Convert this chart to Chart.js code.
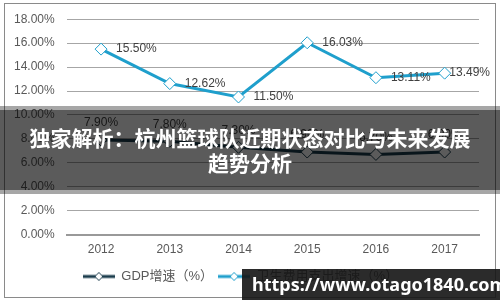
<!DOCTYPE html>
<html>
<head>
<meta charset="utf-8">
<script src="https://cdn.jsdelivr.net/npm/chart.js@4/dist/chart.umd.min.js"></script>
<style>
  html, body { margin: 0; padding: 0; background: #fff; }
  #wrap { position: relative; width: 500px; height: 300px; overflow: hidden; }
  #frame { position: absolute; left: 4px; top: 3px; width: 490px; height: 293px; border: 1px solid #8a8a8a; }
  canvas { position: absolute; left: 0; top: 0; }
  #band { position: absolute; left: 0; top: 106px; width: 500px; height: 88px; background: rgba(0,0,0,0.35); }
  #band .core { position: absolute; left: 0; top: 4px; width: 500px; height: 80px; background: rgba(0,0,0,0.45); }
  #title { position: absolute; left: 0; top: 106px; width: 500px; height: 88px;
           display: flex; align-items: center; justify-content: center; text-align: center;
           color: #fff; font: bold 21px "Noto Sans CJK SC", sans-serif; line-height: 25px; }
  #mark { position: absolute; left: 242px; top: 269px; width: 258px; height: 31px;
          background: rgba(20,20,20,0.9); color: #fff; font: bold 18px "Noto Sans", sans-serif;
          line-height: 31px; padding-left: 10px; box-sizing: border-box; }
</style>
</head>
<body>
<div id="wrap">
  <div id="frame"></div>
  <canvas id="grafico" width="500" height="300"></canvas>
  <div id="band"><div class="core"></div></div>
  <div id="title">独家解析：杭州篮球队近期状态对比与未来发展<br>趋势分析</div>
  <div id="mark">https://www.otago1840.com</div>
</div>
<script>
// dados
const anos = ['2012', '2013', '2014', '2015', '2016', '2017'];
const gdpGrowth = [7.90, 7.80, 7.30, 6.90, 6.70, 6.90];
const healthGrowth = [15.50, 12.62, 11.50, 16.03, 13.11, 13.49];
const seriesNames = ['GDP增速（%）', '卫生费用支出增速（%）'];
const seriesColors = ['#1b3d4d', '#1f9fcc'];

// icone da legenda: linha com losango
function legendIcon(color) {
    const c = document.createElement('canvas');
    c.width = 32; c.height = 12;
    const g = c.getContext('2d');
    g.strokeStyle = color; g.lineWidth = 3;
    g.beginPath(); g.moveTo(0, 6); g.lineTo(32, 6); g.stroke();
    g.fillStyle = '#fff'; g.lineWidth = 1;
    g.beginPath(); g.moveTo(16, 2); g.lineTo(20, 6); g.lineTo(16, 10); g.lineTo(12, 6); g.closePath();
    g.fill(); g.stroke();
    return c;
}

// rotulos de valor
const valueLabels = {
    id: 'valueLabels',
    afterDatasetsDraw(chart) {
        const ctx = chart.ctx;
        ctx.save();
        ctx.font = '12px "Liberation Sans", sans-serif';
        ctx.fillStyle = '#404040';
        ctx.textBaseline = 'middle';
        chart.data.datasets.forEach((ds, i) => {
            chart.getDatasetMeta(i).data.forEach((pt, j) => {
                const txt = ds.data[j].toFixed(2) + '%';
                if (ds.labelPos === 'top') {
                    ctx.textAlign = 'center';
                    ctx.fillText(txt, pt.x, pt.y - 17);
                } else {
                    const w = ctx.measureText(txt).width;
                    ctx.textAlign = 'left';
                    ctx.fillText(txt, Math.min(pt.x + 15, chart.width - 10 - w), pt.y);
                }
            });
        });
        ctx.restore();
    }
};

const serie = (label, data, color, labelPos) => ({
    label, data, labelPos,
    borderColor: color,
    backgroundColor: '#fff',
    borderWidth: 3,
    pointStyle: 'rectRot',
    pointRadius: 6,
    pointBorderWidth: 1,
    pointBackgroundColor: '#fff',
    pointBorderColor: color,
    tension: 0
});

new Chart(document.getElementById('grafico'), {
    type: 'line',
    data: {
        labels: anos,
        datasets: [
            serie(seriesNames[0], gdpGrowth, seriesColors[0], 'top'),
            serie(seriesNames[1], healthGrowth, seriesColors[1], 'right')
        ]
    },
    options: {
        responsive: false,
        animation: false,
        layout: { padding: { left: 2, right: 21, top: 17, bottom: 7 } },
        plugins: {
            tooltip: { enabled: false },
            legend: {
                position: 'bottom',
                labels: {
                    usePointStyle: true,
                    pointStyleWidth: 32,
                    padding: 5,
                    color: '#595959',
                    font: { size: 13, family: '"Liberation Sans", "Noto Sans CJK SC", sans-serif' },
                    generateLabels: chart => chart.data.datasets.map((ds, i) => ({
                        text: ds.label,
                        pointStyle: legendIcon(seriesColors[i]),
                        fillStyle: seriesColors[i],
                        strokeStyle: seriesColors[i],
                        lineWidth: 0,
                        fontColor: '#595959',
                        datasetIndex: i
                    }))
                }
            }
        },
        scales: {
            x: {
                offset: true,
                grid: { display: false, drawTicks: false },
                border: { color: '#999', width: 2 },
                ticks: { color: '#595959', padding: 8, font: { size: 12, family: '"Liberation Sans", sans-serif' } }
            },
            y: {
                min: 0, max: 18,
                grid: { color: '#a6a6a6', drawTicks: false },
                border: { display: false },
                ticks: {
                    stepSize: 2, padding: 12, color: '#595959',
                    font: { size: 12, family: '"Liberation Sans", sans-serif' },
                    callback: v => v.toFixed(2) + '%'
                }
            }
        }
    },
    plugins: [valueLabels]
});
</script>
</body>
</html>
